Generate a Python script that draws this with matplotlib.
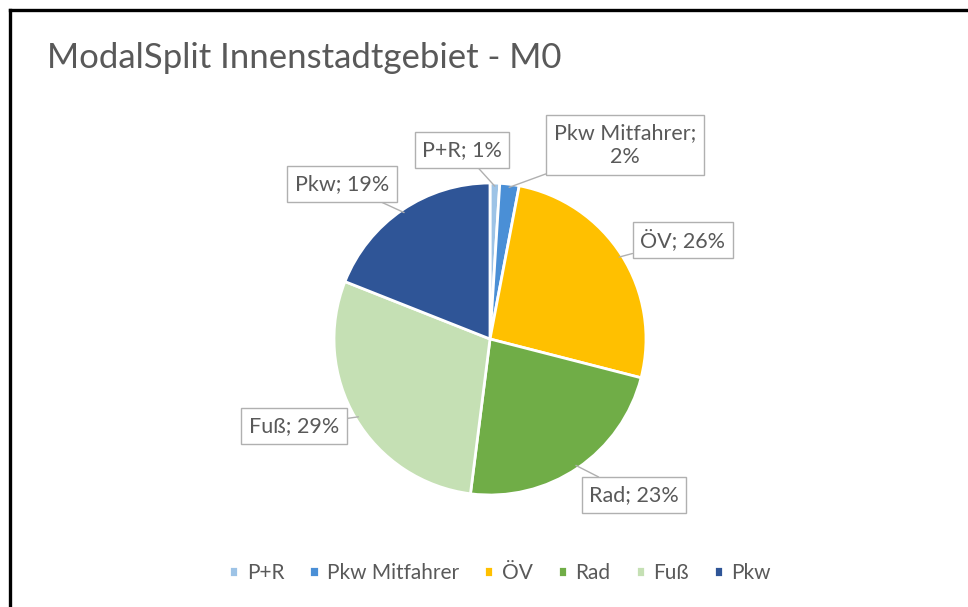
import numpy as np
import matplotlib
matplotlib.use("Agg")
import matplotlib.pyplot as plt
from matplotlib.lines import Line2D

labels = ["P+R", "Pkw Mitfahrer", "ÖV", "Rad", "Fuß", "Pkw"]
values = [1, 2, 26, 23, 29, 19]
colors = ["#9DC3E6", "#4A8FD6", "#FFC000", "#70AD47", "#C5E0B4", "#2F5597"]
label_texts = ["P+R; 1%", "Pkw Mitfahrer;\n2%", "ÖV; 26%", "Rad; 23%", "Fuß; 29%", "Pkw; 19%"]
# label box centres in figure pixels (from top-left)
label_pos = [(462, 150), (625, 145), (683, 240), (634, 495), (294, 426), (342, 184)]

plt.rcParams["font.family"] = ["Lato", "DejaVu Sans"]
W, H = 968, 607
fig = plt.figure(figsize=(W / 100, H / 100), dpi=100)
fig.patch.set_facecolor("white")

# pie axes: centre (490, 339), radius 156 px
cx, cy, r = 490, 339, 156
ax = fig.add_axes([(cx - r) / W, 1 - (cy + r) / H, 2 * r / W, 2 * r / H])
wedges, _ = ax.pie(values, colors=colors, startangle=90, counterclock=False,
                   radius=1, wedgeprops=dict(edgecolor="white", linewidth=2))
ax.set_xlim(-1, 1)
ax.set_ylim(-1, 1)
ax.set_aspect("equal")
ax.axis("off")

# callout labels
cum = np.cumsum([0] + values)
for i, (txt, (px, py)) in enumerate(zip(label_texts, label_pos)):
    mid = (cum[i] + cum[i + 1]) / 2 / sum(values)
    ang = np.deg2rad(90 - 360 * mid)
    ax.annotate(txt, xy=(0.98 * np.cos(ang), 0.98 * np.sin(ang)), xycoords="data",
                xytext=(px / W, 1 - py / H), textcoords="figure fraction",
                ha="center", va="center", fontsize=15.5, color="#595959",
                linespacing=1.25,
                bbox=dict(boxstyle="square,pad=0.35", fc="white", ec="#B0B0B0", lw=1),
                arrowprops=dict(arrowstyle="-", color="#B0B0B0", lw=1,
                                shrinkA=0, shrinkB=0),
                annotation_clip=False)

fig.text(47 / W, 1 - 58 / H, "ModalSplit Innenstadtgebiet - M0", fontsize=25,
         color="#595959", ha="left", va="center")

fig.legend(wedges, labels, loc="center", bbox_to_anchor=(500 / W, 1 - 573 / H),
           ncol=6, frameon=False, fontsize=15, handlelength=0.45, handleheight=0.45,
           handletextpad=0.4, columnspacing=1.2, labelcolor="#595959")

# black frame lines (left and top)
fig.add_artist(Line2D([10 / W, 10 / W], [0, 1 - 10 / H], color="black", lw=2.4,
                      transform=fig.transFigure))
fig.add_artist(Line2D([10 / W, 1], [1 - 10 / H, 1 - 10 / H], color="black", lw=2.4,
                      transform=fig.transFigure))

fig.savefig("out.png", dpi=100)
